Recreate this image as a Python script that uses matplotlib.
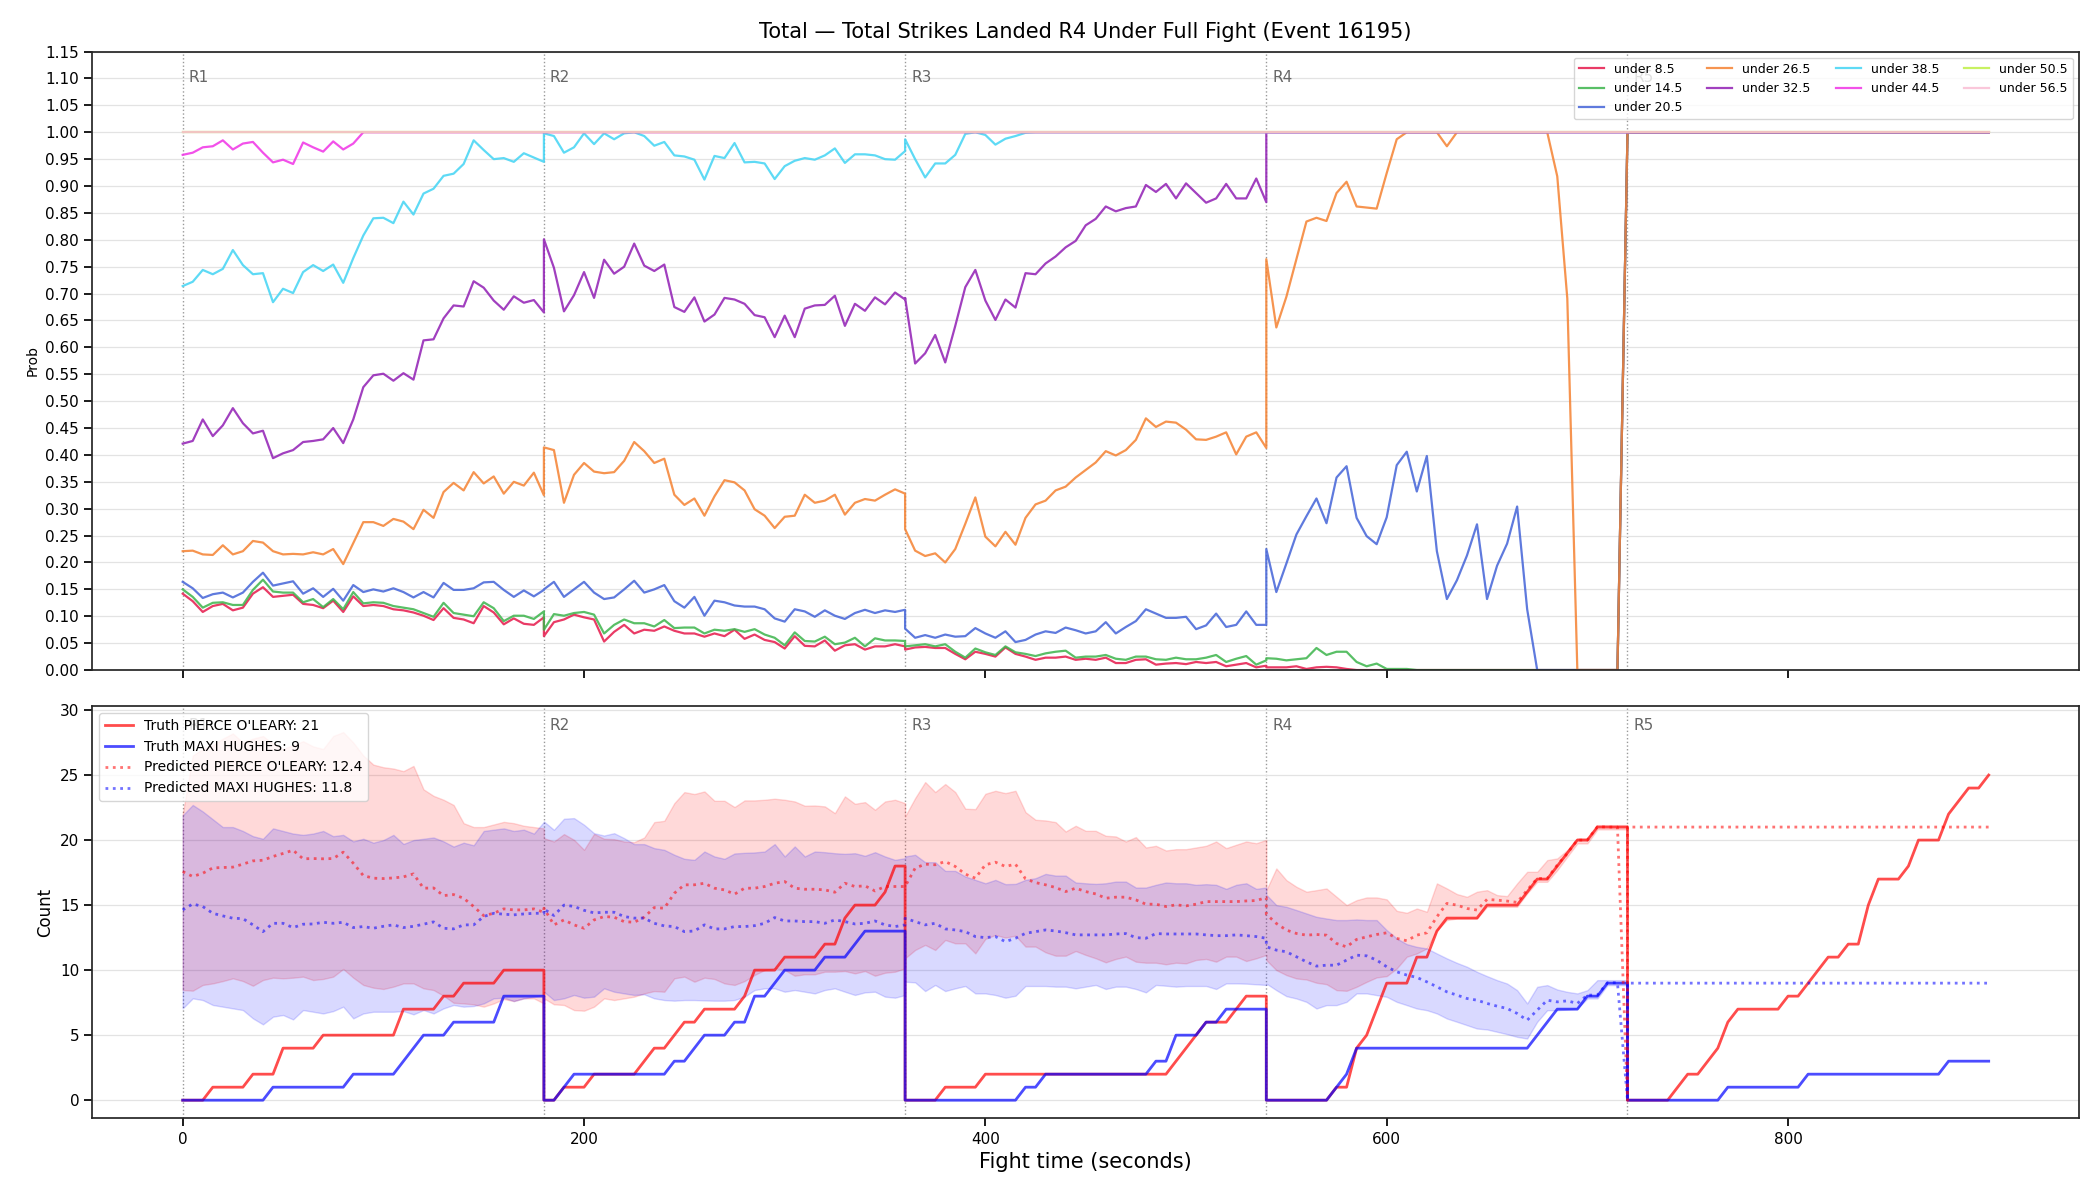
import matplotlib
matplotlib.use("Agg")
import matplotlib.pyplot as plt
import numpy as np

# Each round is sampled every 5 s on its own 0..180 s block, so round edges repeat
round_starts = [0, 180, 360, 540, 720]
round_names = ["R1", "R2", "R3", "R4", "R5"]
t = np.concatenate([s + np.arange(0, 181, 5) for s in round_starts])
t_band = t[:148]  # bands only exist for R1-R4

# ---- top panel: P(total strikes in R4 under line) ----
line_names = ["under 8.5", "under 14.5", "under 20.5", "under 26.5", "under 32.5",
              "under 38.5", "under 44.5", "under 50.5", "under 56.5"]
line_colors = ["#e6194b", "#3cb44b", "#4363d8", "#f58231", "#911eb4",
               "#42d4f4", "#f032e6", "#bfef45", "#fabed4"]

under_8_5 = ([0.142, 0.128, 0.108, 0.119, 0.123, 0.111, 0.116, 0.142, 0.154, 0.136, 0.138, 0.140, 0.123,
              0.121, 0.115, 0.129, 0.108, 0.137, 0.119, 0.121, 0.119, 0.113, 0.111, 0.107, 0.101, 0.093,
              0.115, 0.097, 0.094, 0.087, 0.119, 0.107, 0.085, 0.096, 0.086, 0.084, 0.098]
             + [0.063, 0.089, 0.094, 0.103, 0.098, 0.094, 0.053, 0.071, 0.084, 0.068, 0.075, 0.073, 0.081,
                0.073, 0.068, 0.068, 0.062, 0.068, 0.063, 0.075, 0.058, 0.066, 0.056, 0.052, 0.040, 0.063,
                0.045, 0.044, 0.055, 0.036, 0.046, 0.048, 0.038, 0.044, 0.044, 0.048, 0.044]
             + [0.038, 0.042, 0.043, 0.041, 0.041, 0.030, 0.020, 0.034, 0.030, 0.025, 0.042, 0.030, 0.025,
                0.019, 0.023, 0.023, 0.025, 0.019, 0.021, 0.019, 0.023, 0.013, 0.013, 0.019, 0.020, 0.010,
                0.012, 0.013, 0.011, 0.015, 0.013, 0.015, 0.007, 0.010, 0.013, 0.005, 0.008]
             + [0.005, 0.005, 0.005, 0.007, 0.002, 0.005, 0.006, 0.005, 0.002] + [0.0] * 27 + [1.0]
             + [1.0] * 37)

under_14_5 = ([0.150, 0.136, 0.116, 0.125, 0.126, 0.121, 0.121, 0.149, 0.168, 0.146, 0.144, 0.144, 0.126,
               0.132, 0.117, 0.132, 0.113, 0.145, 0.124, 0.126, 0.125, 0.119, 0.116, 0.113, 0.106, 0.099,
               0.125, 0.106, 0.103, 0.100, 0.126, 0.115, 0.091, 0.101, 0.101, 0.095, 0.109]
              + [0.075, 0.104, 0.101, 0.106, 0.108, 0.103, 0.068, 0.084, 0.094, 0.087, 0.087, 0.081, 0.093,
                 0.078, 0.079, 0.079, 0.068, 0.075, 0.073, 0.076, 0.071, 0.076, 0.066, 0.060, 0.046, 0.070,
                 0.054, 0.053, 0.062, 0.048, 0.051, 0.060, 0.044, 0.059, 0.055, 0.055, 0.054]
              + [0.044, 0.046, 0.048, 0.044, 0.048, 0.034, 0.023, 0.040, 0.033, 0.028, 0.044, 0.033, 0.030,
                 0.026, 0.031, 0.034, 0.036, 0.023, 0.025, 0.025, 0.028, 0.021, 0.019, 0.025, 0.025, 0.020,
                 0.019, 0.023, 0.020, 0.020, 0.023, 0.028, 0.015, 0.021, 0.026, 0.010, 0.018]
              + [0.022, 0.021, 0.018, 0.020, 0.022, 0.041, 0.028, 0.034, 0.034, 0.015, 0.007, 0.012, 0.002,
                 0.002, 0.002] + [0.0] * 21 + [1.0]
              + [1.0] * 37)

under_20_5 = ([0.164, 0.152, 0.134, 0.141, 0.144, 0.135, 0.144, 0.164, 0.181, 0.157, 0.161, 0.165, 0.142,
               0.152, 0.136, 0.151, 0.129, 0.158, 0.145, 0.150, 0.146, 0.152, 0.145, 0.135, 0.145, 0.135,
               0.162, 0.149, 0.149, 0.152, 0.163, 0.164, 0.149, 0.136, 0.148, 0.137, 0.149]
              + [0.150, 0.164, 0.136, 0.150, 0.164, 0.144, 0.132, 0.135, 0.150, 0.166, 0.144, 0.150, 0.158,
                 0.128, 0.116, 0.136, 0.101, 0.129, 0.126, 0.120, 0.118, 0.118, 0.113, 0.096, 0.090, 0.113,
                 0.109, 0.099, 0.111, 0.101, 0.095, 0.106, 0.112, 0.106, 0.111, 0.108, 0.112]
              + [0.077, 0.060, 0.065, 0.060, 0.066, 0.062, 0.063, 0.078, 0.068, 0.060, 0.072, 0.052, 0.056,
                 0.066, 0.072, 0.069, 0.079, 0.074, 0.068, 0.072, 0.089, 0.068, 0.080, 0.091, 0.113, 0.105,
                 0.097, 0.097, 0.099, 0.076, 0.083, 0.105, 0.080, 0.084, 0.109, 0.084, 0.084]
              + [0.225, 0.145, 0.198, 0.252, 0.286, 0.319, 0.273, 0.358, 0.379, 0.283, 0.249, 0.234, 0.284,
                 0.381, 0.406, 0.332, 0.398, 0.221, 0.132, 0.167, 0.213, 0.271, 0.132, 0.194, 0.235, 0.304,
                 0.113] + [0.0] * 9 + [1.0]
              + [1.0] * 37)

under_26_5 = ([0.221, 0.222, 0.215, 0.214, 0.232, 0.215, 0.221, 0.240, 0.237, 0.221, 0.215, 0.216, 0.215,
               0.219, 0.215, 0.225, 0.197, 0.236, 0.275, 0.275, 0.268, 0.281, 0.276, 0.262, 0.298, 0.283,
               0.331, 0.348, 0.334, 0.368, 0.347, 0.360, 0.328, 0.350, 0.343, 0.367, 0.325]
              + [0.414, 0.409, 0.311, 0.363, 0.385, 0.369, 0.366, 0.368, 0.389, 0.424, 0.407, 0.385, 0.393,
                 0.326, 0.307, 0.319, 0.287, 0.323, 0.353, 0.349, 0.334, 0.299, 0.287, 0.264, 0.285, 0.287,
                 0.326, 0.311, 0.315, 0.326, 0.289, 0.311, 0.318, 0.315, 0.326, 0.336, 0.328]
              + [0.262, 0.222, 0.212, 0.217, 0.200, 0.225, 0.272, 0.321, 0.248, 0.230, 0.257, 0.233, 0.283,
                 0.308, 0.315, 0.334, 0.341, 0.358, 0.372, 0.386, 0.407, 0.399, 0.409, 0.428, 0.468, 0.452,
                 0.462, 0.460, 0.447, 0.429, 0.428, 0.434, 0.442, 0.401, 0.434, 0.442, 0.413]
              + [0.764, 0.637, 0.694, 0.764, 0.834, 0.841, 0.835, 0.887, 0.908, 0.862, 0.860, 0.858, 0.924,
                 0.987, 1.0, 1.0, 1.0, 1.0, 0.974, 1.0, 1.0, 1.0, 1.0, 1.0, 1.0, 1.0, 1.0, 1.0, 1.0, 0.918,
                 0.691, 0.0, 0.0, 0.0, 0.0, 0.0, 1.0]
              + [1.0] * 37)

under_32_5 = ([0.421, 0.426, 0.466, 0.435, 0.455, 0.487, 0.459, 0.440, 0.445, 0.394, 0.403, 0.409, 0.424,
               0.426, 0.429, 0.450, 0.422, 0.466, 0.526, 0.548, 0.551, 0.538, 0.552, 0.540, 0.613, 0.615,
               0.654, 0.678, 0.676, 0.723, 0.711, 0.687, 0.670, 0.695, 0.683, 0.688, 0.665]
              + [0.801, 0.748, 0.667, 0.697, 0.740, 0.692, 0.763, 0.737, 0.750, 0.793, 0.752, 0.742, 0.754,
                 0.675, 0.666, 0.693, 0.648, 0.661, 0.692, 0.689, 0.681, 0.660, 0.656, 0.619, 0.659, 0.619,
                 0.672, 0.678, 0.679, 0.696, 0.640, 0.681, 0.668, 0.693, 0.680, 0.702, 0.689]
              + [0.692, 0.570, 0.589, 0.623, 0.572, 0.640, 0.712, 0.744, 0.687, 0.651, 0.689, 0.674, 0.738,
                 0.736, 0.756, 0.769, 0.786, 0.798, 0.827, 0.839, 0.862, 0.853, 0.859, 0.862, 0.902, 0.889,
                 0.904, 0.877, 0.905, 0.887, 0.869, 0.877, 0.904, 0.877, 0.877, 0.914, 0.870]
              + [1.0] * 37
              + [1.0] * 37)

under_38_5 = ([0.714, 0.722, 0.744, 0.736, 0.746, 0.781, 0.753, 0.736, 0.738, 0.684, 0.709, 0.701, 0.740,
               0.753, 0.742, 0.754, 0.720, 0.766, 0.808, 0.840, 0.841, 0.831, 0.871, 0.847, 0.886, 0.895,
               0.919, 0.923, 0.941, 0.985, 0.967, 0.950, 0.952, 0.945, 0.961, 0.953, 0.945]
              + [0.998, 0.993, 0.962, 0.972, 0.998, 0.978, 0.998, 0.987, 0.998, 1.0, 0.993, 0.975, 0.982,
                 0.957, 0.955, 0.949, 0.912, 0.956, 0.952, 0.980, 0.944, 0.945, 0.942, 0.913, 0.937, 0.947,
                 0.952, 0.949, 0.957, 0.970, 0.943, 0.959, 0.959, 0.957, 0.950, 0.949, 0.965]
              + [0.987, 0.950, 0.916, 0.942, 0.942, 0.958, 0.997, 1.0, 0.995, 0.977, 0.988, 0.993, 0.999]
              + [1.0] * 24
              + [1.0] * 37
              + [1.0] * 37)

under_44_5 = ([0.958, 0.962, 0.972, 0.974, 0.985, 0.968, 0.979, 0.982, 0.962, 0.944, 0.949, 0.941, 0.981,
               0.972, 0.964, 0.983, 0.968, 0.979] + [1.0] * 19
              + [1.0] * 148)

under_50_5 = [1.0] * 185
under_56_5 = [1.0] * 185

# ---- bottom panel: cumulative strikes per round ----
truth_pierce = ([0, 0, 0, 1, 1, 1, 1, 2, 2, 2, 4, 4, 4, 4, 5, 5, 5, 5, 5, 5, 5, 5, 7, 7, 7, 7, 8, 8, 9, 9,
                 9, 9, 10, 10, 10, 10, 10]
                + [0, 0, 1, 1, 1, 2, 2, 2, 2, 2, 3, 4, 4, 5, 6, 6, 7, 7, 7, 7, 8, 10, 10, 10, 11, 11, 11,
                   11, 12, 12, 14, 15, 15, 15, 16, 18, 18]
                + [0, 0, 0, 0, 1, 1, 1, 1, 2, 2, 2, 2, 2, 2, 2, 2, 2, 2, 2, 2, 2, 2, 2, 2, 2, 2, 2, 3, 4,
                   5, 6, 6, 6, 7, 8, 8, 8]
                + [0, 0, 0, 0, 0, 0, 0, 1, 1, 4, 5, 7, 9, 9, 9, 11, 11, 13, 14, 14, 14, 14, 15, 15, 15, 15,
                   16, 17, 17, 18, 19, 20, 20, 21, 21, 21, 21]
                + [0, 0, 0, 0, 0, 1, 2, 2, 3, 4, 6, 7, 7, 7, 7, 7, 8, 8, 9, 10, 11, 11, 12, 12, 15, 17, 17,
                   17, 18, 20, 20, 20, 22, 23, 24, 24, 25])

truth_maxi = ([0, 0, 0, 0, 0, 0, 0, 0, 0, 1, 1, 1, 1, 1, 1, 1, 1, 2, 2, 2, 2, 2, 3, 4, 5, 5, 5, 6, 6, 6,
               6, 6, 8, 8, 8, 8, 8]
              + [0, 0, 1, 2, 2, 2, 2, 2, 2, 2, 2, 2, 2, 3, 3, 4, 5, 5, 5, 6, 6, 8, 8, 9, 10, 10, 10, 10,
                 11, 11, 11, 12, 13, 13, 13, 13, 13]
              + [0, 0, 0, 0, 0, 0, 0, 0, 0, 0, 0, 0, 1, 1, 2, 2, 2, 2, 2, 2, 2, 2, 2, 2, 2, 3, 3, 5, 5,
                 5, 6, 6, 7, 7, 7, 7, 7]
              + [0, 0, 0, 0, 0, 0, 0, 1, 2, 4, 4, 4, 4, 4, 4, 4, 4, 4, 4, 4, 4, 4, 4, 4, 4, 4, 4, 5, 6,
                 7, 7, 7, 8, 8, 9, 9, 9]
              + [0, 0, 0, 0, 0, 0, 0, 0, 0, 0, 1, 1, 1, 1, 1, 1, 1, 1, 2, 2, 2, 2, 2, 2, 2, 2, 2, 2, 2,
                 2, 2, 2, 3, 3, 3, 3, 3])

pred_pierce = ([17.58, 17.20, 17.45, 17.86, 17.89, 17.92, 18.15, 18.40, 18.45, 18.74, 18.97, 19.22, 18.56,
                18.58, 18.56, 18.58, 19.07, 18.22, 17.27, 17.07, 17.04, 17.09, 17.17, 17.40, 16.30, 16.32,
                15.73, 15.81, 15.53, 14.89, 14.19, 14.37, 14.71, 14.63, 14.63, 14.71, 14.45]
               + [14.76, 13.48, 13.86, 13.48, 13.22, 13.86, 14.12, 14.07, 13.73, 13.68, 14.07, 14.81, 14.76,
                  15.91, 16.56, 16.56, 16.68, 16.30, 16.17, 15.84, 16.30, 16.30, 16.43, 16.68, 16.81, 16.30,
                  16.22, 16.22, 16.17, 15.99, 16.68, 16.43, 16.48, 16.09, 16.43, 16.43, 16.43]
               + [16.43, 17.84, 18.15, 18.10, 18.35, 17.97, 17.38, 17.07, 18.10, 18.30, 17.97, 18.15, 17.02,
                  16.73, 16.56, 16.35, 16.04, 16.30, 16.04, 15.86, 15.53, 15.61, 15.61, 15.40, 15.07, 15.07,
                  14.89, 15.02, 14.94, 15.07, 15.27, 15.27, 15.27, 15.27, 15.32, 15.35, 15.58]
               + [14.30, 13.59, 13.08, 12.82, 12.69, 12.74, 12.69, 12.05, 11.79, 12.36, 12.56, 12.74, 12.87,
                  12.44, 12.26, 12.69, 12.87, 14.10, 15.13, 15.00, 14.74, 14.62, 15.44, 15.38, 15.31, 15.21,
                  16.15, 17.05, 17.05, 18.08, 18.97, 20.00, 20.00, 21.03, 21.00, 21.00, 0.0]
               + [21.0] * 37)

pred_maxi = ([14.63, 15.09, 14.89, 14.37, 14.17, 13.99, 13.96, 13.48, 12.96, 13.60, 13.60, 13.27, 13.53,
              13.55, 13.68, 13.60, 13.68, 13.27, 13.35, 13.22, 13.37, 13.48, 13.27, 13.37, 13.53, 13.71,
              13.22, 13.17, 13.48, 13.48, 14.12, 14.37, 14.30, 14.25, 14.32, 14.37, 14.37]
             + [14.70, 14.20, 15.00, 14.90, 14.60, 14.40, 14.45, 14.45, 14.12, 14.00, 14.00, 13.60, 13.40,
                13.35, 12.96, 13.01, 13.48, 13.17, 13.17, 13.35, 13.35, 13.42, 13.60, 14.04, 13.78, 13.78,
                13.73, 13.73, 13.60, 13.86, 13.73, 13.55, 13.60, 13.78, 13.48, 13.35, 13.48]
             + [13.99, 13.73, 13.48, 13.60, 13.17, 13.09, 12.96, 12.58, 12.50, 12.58, 12.19, 12.45, 12.83,
                12.96, 13.09, 13.01, 12.88, 12.71, 12.71, 12.71, 12.71, 12.78, 12.81, 12.50, 12.45, 12.81,
                12.78, 12.78, 12.78, 12.78, 12.71, 12.65, 12.65, 12.71, 12.65, 12.58, 12.45]
             + [11.80, 11.54, 11.41, 11.03, 10.64, 10.31, 10.38, 10.38, 10.77, 11.15, 11.10, 10.77, 10.26,
                9.87, 9.62, 9.44, 9.10, 8.72, 8.33, 8.08, 7.82, 7.69, 7.44, 7.23, 7.05, 6.67, 6.15, 6.92,
                7.69, 7.56, 7.64, 7.44, 8.08, 8.08, 9.03, 9.03, 0.0]
             + [9.0] * 37)

pierce_hi = ([22.0, 26.5, 27.0, 27.3, 27.8, 28.2, 27.5, 27.8, 28.0, 27.4, 27.0, 27.3, 27.6, 27.2, 27.0, 28.0,
              28.3, 27.5, 26.5, 25.8, 25.6, 25.5, 25.3, 25.7, 23.9, 23.4, 23.1, 22.7, 21.3, 21.0, 21.0, 21.2,
              21.4, 21.3, 21.1, 21.0, 20.9]
             + [20.15, 19.89, 20.46, 20.02, 19.25, 20.48, 20.10, 20.07, 19.89, 19.84, 20.20, 21.38, 21.48,
                22.84, 23.69, 23.54, 23.74, 23.02, 23.02, 22.54, 23.05, 23.05, 23.10, 23.18, 23.10, 22.97,
                22.64, 22.66, 22.59, 22.07, 23.36, 22.79, 22.92, 22.33, 22.97, 23.10, 22.84]
             + [21.82, 23.23, 24.46, 23.69, 24.31, 23.69, 22.41, 22.38, 23.56, 23.79, 23.61, 23.79, 22.15,
                21.56, 21.51, 21.38, 20.66, 21.10, 20.71, 20.71, 20.33, 20.28, 19.89, 20.23, 19.43, 19.56,
                19.20, 19.30, 19.30, 19.43, 19.56, 19.89, 19.38, 19.64, 19.89, 19.76, 20.02]
             + [16.15, 17.82, 16.92, 16.41, 16.03, 16.15, 16.28, 15.64, 15.00, 15.38, 15.59, 15.59, 15.44,
                14.56, 14.41, 14.74, 14.49, 16.67, 16.28, 15.85, 15.64, 16.03, 16.15, 15.77, 15.69, 16.67,
                17.56, 17.56, 18.46, 18.59, 19.23, 20.13, 20.13, 21.15, 21.15, 21.15, 21.15])

pierce_lo = ([8.47, 8.42, 8.86, 8.98, 9.16, 9.37, 9.16, 8.80, 9.24, 9.42, 9.37, 9.42, 9.50, 9.24, 9.32, 9.50,
              10.09, 9.42, 8.86, 8.65, 8.55, 8.73, 8.98, 8.98, 8.60, 8.47, 8.03, 7.49, 7.44, 7.37, 7.19, 7.44,
              7.78, 7.62, 7.83, 7.83, 7.44]
             + [7.83, 7.37, 7.32, 6.93, 6.88, 7.19, 7.83, 7.70, 7.83, 7.96, 8.21, 8.39, 8.34, 9.37, 9.50, 9.11,
                9.42, 9.32, 8.98, 8.86, 9.16, 9.63, 10.01, 10.14, 10.01, 9.57, 9.68, 9.68, 9.88, 9.88, 9.93,
                9.75, 9.93, 9.57, 9.80, 9.88, 10.14]
             + [10.91, 11.55, 11.94, 11.55, 12.32, 12.06, 12.06, 11.29, 12.40, 12.71, 12.50, 12.65, 11.81,
                11.81, 11.37, 11.11, 11.11, 11.47, 11.17, 10.91, 10.60, 10.86, 11.04, 10.65, 10.57, 10.57,
                10.45, 10.57, 10.52, 10.78, 10.86, 10.65, 11.04, 11.04, 10.70, 10.91, 11.17]
             + [10.77, 10.00, 9.62, 9.36, 9.28, 9.03, 8.92, 8.46, 8.41, 8.72, 9.10, 9.44, 9.54, 10.13, 11.03,
                11.28, 11.67, 13.08, 13.85, 13.97, 13.97, 13.97, 14.87, 14.87, 14.87, 14.87, 15.90, 16.79,
                16.79, 17.69, 18.72, 19.74, 19.74, 20.82, 20.82, 20.82, 20.82])

maxi_hi = ([21.9, 22.7, 22.2, 21.6, 21.0, 21.0, 20.7, 20.3, 20.1, 20.9, 20.7, 20.5, 20.4, 20.5, 20.7, 20.3,
            20.4, 19.9, 20.1, 19.8, 20.0, 20.4, 19.7, 20.0, 20.1, 20.2, 19.9, 19.5, 19.8, 19.6, 20.7, 20.8,
            20.9, 20.7, 20.8, 20.5, 21.4]
           + [21.43, 20.79, 21.64, 21.69, 21.18, 20.53, 20.35, 20.53, 20.15, 19.69, 19.69, 19.38, 19.25,
              18.87, 18.56, 18.48, 19.12, 18.74, 18.56, 18.97, 19.02, 19.05, 19.12, 19.69, 18.74, 19.51,
              18.74, 19.12, 19.07, 18.99, 18.94, 18.99, 18.79, 19.07, 18.74, 18.48, 18.61]
           + [18.74, 18.87, 18.30, 18.30, 17.63, 17.63, 17.20, 16.94, 16.68, 16.94, 16.61, 16.63, 16.94,
              17.07, 17.40, 17.27, 17.27, 16.74, 16.68, 16.63, 16.68, 16.81, 16.81, 16.35, 16.35, 16.56,
              16.74, 16.68, 16.68, 16.56, 16.61, 16.56, 16.25, 16.56, 16.68, 16.25, 16.35]
           + [15.80, 15.00, 14.87, 14.62, 14.36, 14.10, 13.97, 13.85, 13.85, 13.90, 13.85, 13.85, 13.08,
              12.44, 12.00, 11.79, 11.67, 11.28, 10.90, 10.56, 10.26, 9.87, 9.54, 9.23, 8.97, 8.46, 7.44,
              8.72, 8.85, 8.51, 8.33, 8.21, 8.46, 9.23, 9.23, 9.23, 9.23])

maxi_lo = ([7.06, 7.83, 7.70, 7.32, 7.19, 7.06, 6.93, 6.29, 5.83, 6.42, 6.55, 6.21, 6.93, 6.80, 6.67, 6.85,
            7.19, 6.29, 6.67, 6.80, 6.80, 6.80, 6.85, 6.60, 6.93, 6.67, 7.06, 7.32, 7.19, 7.24, 7.44, 7.83,
            7.88, 7.62, 7.83, 7.96, 8.09]
           + [8.34, 7.70, 7.83, 8.09, 7.88, 7.96, 8.60, 8.34, 8.21, 8.09, 8.14, 7.83, 7.70, 7.65, 7.70, 7.70,
              7.67, 7.65, 7.65, 7.70, 7.96, 8.47, 8.60, 8.60, 8.34, 8.47, 8.34, 8.21, 8.47, 8.60, 8.34, 8.09,
              8.29, 8.34, 7.96, 7.88, 8.09]
           + [9.11, 9.06, 8.39, 8.86, 8.39, 8.60, 8.78, 8.21, 8.21, 8.09, 7.88, 8.03, 8.78, 8.78, 8.78, 8.73,
              8.73, 8.60, 8.73, 8.86, 8.55, 8.73, 8.73, 8.55, 8.29, 8.86, 8.80, 8.73, 8.78, 8.78, 8.78, 8.55,
              8.98, 8.98, 8.96, 8.91, 8.86]
           + [8.97, 8.46, 8.00, 7.82, 7.56, 7.05, 7.31, 7.31, 7.56, 8.21, 8.21, 8.08, 7.95, 7.56, 7.31, 7.05,
              6.92, 6.67, 6.28, 6.03, 5.77, 5.51, 5.44, 5.26, 5.08, 4.87, 4.74, 6.03, 6.92, 6.92, 6.97, 7.05,
              7.82, 7.82, 8.85, 8.85, 8.85])

plt.rcParams["axes.linewidth"] = 1.25
plt.rcParams["axes.edgecolor"] = "#262626"
plt.rcParams["xtick.major.width"] = 1.25
plt.rcParams["ytick.major.width"] = 1.25
plt.rcParams["xtick.major.size"] = 6
plt.rcParams["ytick.major.size"] = 6
plt.rcParams["xtick.labelsize"] = 11
plt.rcParams["ytick.labelsize"] = 11

fig, (ax1, ax2) = plt.subplots(2, 1, figsize=(21, 12), dpi=100, sharex=True,
                               gridspec_kw={"height_ratios": [3, 2]})
fig.subplots_adjust(left=0.044, right=0.99, top=0.957, bottom=0.068, hspace=0.07)

series = [under_8_5, under_14_5, under_20_5, under_26_5, under_32_5,
          under_38_5, under_44_5, under_50_5, under_56_5]
for vals, name, col in zip(series, line_names, line_colors):
    ax1.plot(t, vals, color=col, lw=1.6, alpha=0.85, label=name)

ax1.set_ylim(0, 1.15)
ax1.set_yticks(np.arange(0, 1.151, 0.05))
ax1.yaxis.set_major_formatter(matplotlib.ticker.FormatStrFormatter("%.2f"))
ax1.set_ylabel("Prob", fontsize=10)
ax1.set_title("Total \u2014 Total Strikes Landed R4 Under Full Fight (Event 16195)", fontsize=15, pad=10)
ax1.legend(loc="upper right", ncol=4, fontsize=9)

# bottom panel
ax2.fill_between(t_band, pierce_lo, pierce_hi, color="red", alpha=0.15)
ax2.fill_between(t_band, maxi_lo, maxi_hi, color="blue", alpha=0.15)
ax2.plot(t, truth_pierce, color="red", lw=2, alpha=0.7, label="Truth PIERCE O'LEARY: 21")
ax2.plot(t, truth_maxi, color="blue", lw=2, alpha=0.7, label="Truth MAXI HUGHES: 9")
ax2.plot(t, pred_pierce, color="red", lw=2, ls=":", alpha=0.55, label="Predicted PIERCE O'LEARY: 12.4")
ax2.plot(t, pred_maxi, color="blue", lw=2, ls=":", alpha=0.55, label="Predicted MAXI HUGHES: 11.8")
ax2.set_ylim(-1.4, 30.3)
ax2.set_yticks([0, 5, 10, 15, 20, 25, 30])
ax2.set_ylabel("Count", fontsize=12)
ax2.set_xlabel("Fight time (seconds)", fontsize=15)
ax2.legend(loc="upper left", fontsize=10)

for ax in (ax1, ax2):
    ax.grid(axis="y", color="#e3e3e3", lw=0.9)
    ax.set_axisbelow(True)
    for start, name in zip(round_starts, round_names):
        ax.axvline(start, color="gray", ls=":", lw=1, alpha=0.8, zorder=0.5)
        ax.text(start + 3, 0.97, name, transform=ax.get_xaxis_transform(),
                ha="left", va="top", color="#666666", fontsize=11, zorder=0.6)

fig.savefig("out.png", dpi=100)
